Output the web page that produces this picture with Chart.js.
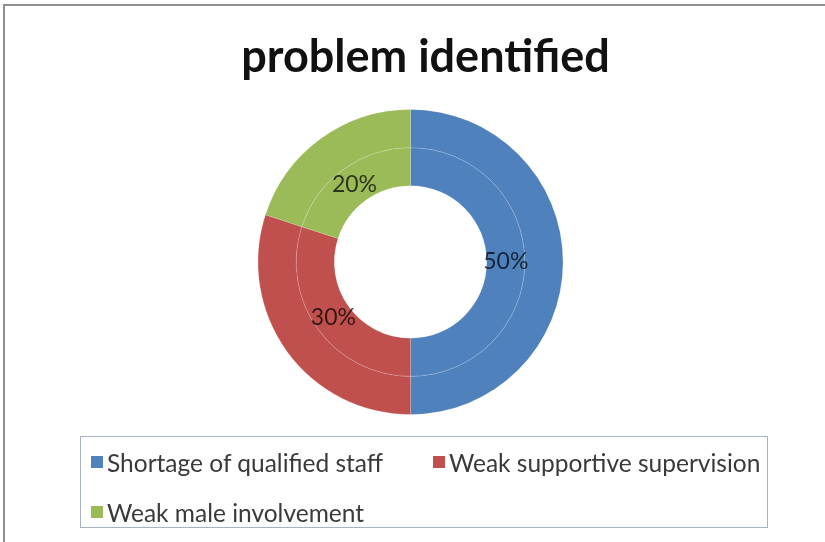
<!DOCTYPE html>
<html>
<head>
<meta charset="utf-8">
<title>problem identified</title>
<script src="https://cdn.jsdelivr.net/npm/chart.js@4"></script>
<style>
  html, body { margin: 0; padding: 0; background: #fff; overflow: hidden; width: 825px; height: 542px; }
  .frame {
    position: absolute; left: 3px; top: 4px; width: 830px; height: 545px;
    border-top: 2px solid #8f8f8f; border-left: 2px solid #8f8f8f;
  }
  #wrap { position: absolute; left: 0; top: 0; width: 825px; height: 542px; }
  #legend {
    position: absolute; left: 80px; top: 436px; width: 688px; height: 92px;
    border: 1px solid #a7b0c4; box-sizing: border-box;
    display: grid; grid-template-columns: 342px auto; grid-auto-rows: 50px;
    padding-left: 10px;
    font-family: Lato, sans-serif; font-size: 24.5px; color: #3a3a3a;
  }
  #legend .item { display: flex; align-items: center; white-space: nowrap; }
  #legend .box { width: 12px; height: 12px; margin-right: 4px; flex: none; }
</style>
</head>
<body>
<div class="frame"></div>
<div id="wrap"><canvas id="chart" width="825" height="542"></canvas></div>
<div id="legend"></div>
<script>
const categorias = ['Shortage of qualified staff', 'Weak supportive supervision', 'Weak male involvement'];
const valores = [50, 30, 20];
const cores = ['#4f81bd', '#c0504d', '#9bbb59'];

// rotulos de percentagem no anel interno
const rotulos = {
  id: 'rotulos',
  afterDatasetsDraw(chart) {
    const ctx = chart.ctx;
    const meta = chart.getDatasetMeta(1);
    const total = valores.reduce((a, b) => a + b, 0);
    ctx.save();
    ctx.font = '23px Lato';
    ctx.fillStyle = 'rgba(0, 0, 0, 0.72)';
    ctx.textAlign = 'center';
    ctx.textBaseline = 'middle';
    meta.data.forEach((arc, i) => {
      const pos = arc.tooltipPosition();
      ctx.fillText(Math.round(valores[i] / total * 100) + '%', pos.x, pos.y);
    });
    ctx.restore();
  }
};

// o donut fica um pouco a esquerda do titulo
const deslocar = {
  id: 'deslocar',
  afterLayout(chart) {
    chart.chartArea.left -= 15;
    chart.chartArea.right -= 15;
  }
};

const ctx = document.getElementById('chart').getContext('2d');
const chart = new Chart(ctx, {
  type: 'doughnut',
  data: {
    labels: categorias,
    datasets: [
      { data: valores, backgroundColor: cores, borderColor: 'rgba(255,255,255,0.14)', borderWidth: 1 },
      { data: valores, backgroundColor: cores, borderColor: 'rgba(255,255,255,0.14)', borderWidth: 1 }
    ]
  },
  options: {
    responsive: false,
    animation: false,
    cutout: '50%',
    layout: { padding: { left: 26, right: 0, top: 0, bottom: 127 } },
    plugins: {
      legend: { display: false },
      tooltip: { enabled: false },
      title: {
        display: true,
        text: 'problem identified',
        color: '#111',
        font: { family: 'Lato', size: 45, weight: 'bold', lineHeight: 1.2 },
        padding: { top: 30, bottom: 25 }
      }
    }
  },
  plugins: [rotulos, deslocar]
});

// legenda em html, gerada a partir do grafico
const legendaDiv = document.getElementById('legend');
chart.options.plugins.legend.labels.generateLabels(chart).forEach(item => {
  const el = document.createElement('div');
  el.className = 'item';
  el.innerHTML = `<span class="box" style="background:${item.fillStyle}"></span><span>${item.text}</span>`;
  legendaDiv.appendChild(el);
});
</script>
</body>
</html>
